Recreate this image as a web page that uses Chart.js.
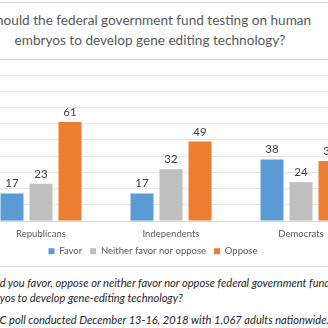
<!DOCTYPE html>
<html><head><meta charset="utf-8">
<script src="https://cdn.jsdelivr.net/npm/chart.js@4.4.1/dist/chart.umd.min.js"></script>
<style>
html,body{margin:0;padding:0;width:328px;height:328px;overflow:hidden;background:#fff;position:relative;font-family:Lato,"Open Sans",sans-serif;}
.hl{position:absolute;left:0;width:328px;height:1px;background:#d4d4d4;}
.title{position:absolute;left:-22px;width:344px;text-align:center;color:#595959;font-size:13.6px;line-height:20px;white-space:nowrap;}
.note{position:absolute;color:#262626;font-size:11.1px;font-style:italic;white-space:nowrap;left:0;}
#wrap{position:absolute;left:-69px;top:60px;width:435px;height:206px;}
</style></head><body>
<div class="hl" style="top:2px"></div>
<div class="title" style="top:10px">Should the federal government fund testing on human<br>embryos to develop gene editing technology?</div>
<div class="hl" style="top:59px"></div>
<div id="wrap"><canvas id="c"></canvas></div>
<div class="hl" style="top:266px;background:#e4e4e4"></div>
<div class="note" style="top:276px"><span class="pre">Q: Woul</span>d you favor, oppose or neither favor nor oppose federal government funding testing on human</div>
<div class="note" style="top:291px"><span class="pre">embr</span>yos to develop gene-editing technology?</div>
<div class="note" style="top:313px"><span class="pre">Source: AP-NOR</span>C poll conducted December 13-16, 2018 with 1,067 adults nationwide.</div>
<script>
const categories = ["Republicans", "Independents", "Democrats"];
const seriesNames = ["Favor", "Neither favor nor oppose", "Oppose"];
const favor = [17, 17, 38];
const neither = [23, 32, 24];
const oppose = [61, 49, 37];
const yTicks = [0, 10, 20, 30, 40, 50, 60, 70, 80, 90];
const colors = ["#5b9bd5", "#bfbfbf", "#ed7d31"];

document.querySelectorAll('.note').forEach(n=>{
  const p=n.querySelector('.pre');
  n.style.left=(-p.offsetWidth)+'px';
});

const labelPlugin = {
  id:'vals',
  afterDatasetsDraw(chart){
    const ctx=chart.ctx;
    ctx.save();
    ctx.font='11.5px Lato';
    ctx.fillStyle='#404040';
    ctx.textAlign='center';
    ctx.textBaseline='bottom';
    chart.data.datasets.forEach((ds,i)=>{
      chart.getDatasetMeta(i).data.forEach((bar,j)=>{
        ctx.fillText(String(ds.data[j]), bar.x, bar.y-4);
      });
    });
    ctx.restore();
  }
};

new Chart(document.getElementById('c'), {
  type:'bar',
  data:{
    labels:categories,
    datasets:[
      {label:seriesNames[0], data:favor, backgroundColor:colors[0]},
      {label:seriesNames[1], data:neither, backgroundColor:colors[1]},
      {label:seriesNames[2], data:oppose, backgroundColor:colors[2]}
    ]
  },
  options:{
    responsive:true, maintainAspectRatio:false, animation:false,
    categoryPercentage:0.669, barPercentage:0.793,
    layout:{padding:{left:9,right:0,top:15,bottom:0}},
    plugins:{
      legend:{position:'bottom', labels:{boxWidth:6, boxHeight:6, color:'#595959', font:{family:'Lato', size:9.5}, padding:8}},
      tooltip:{enabled:false}
    },
    scales:{
      x:{grid:{display:false}, border:{color:'#d9d9d9'}, ticks:{color:'#595959', font:{family:'Lato', size:9.5}, padding:-1}},
      y:{min:0, max:90, afterBuildTicks(ax){ax.ticks=yTicks.map(v=>({value:v}));},
         afterFit(ax){ax.width=36;},
         ticks:{display:false}, border:{display:false}, grid:{color:'#e6e6e6', drawTicks:false}}
    }
  },
  plugins:[labelPlugin]
});
</script>
</body></html>
